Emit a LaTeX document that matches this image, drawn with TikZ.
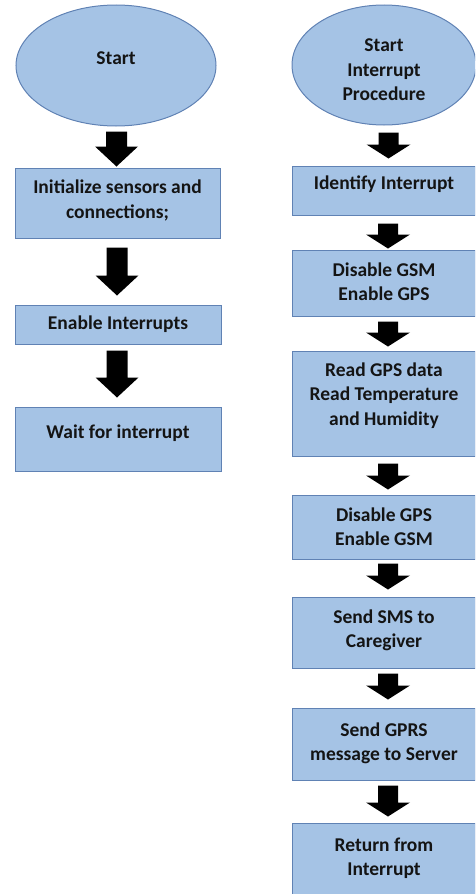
\documentclass[tikz,border=0pt]{standalone}
\usepackage{fontspec}
\setmainfont{Carlito}
\usetikzlibrary{shapes.geometric,calc}

\definecolor{boxfill}{RGB}{165,195,229}
\definecolor{boxline}{RGB}{96,130,180}
\definecolor{ink}{RGB}{20,20,20}

\tikzset{
  stepbox/.style={draw=boxline, fill=boxfill, line width=1pt, rectangle, inner sep=0pt},
  term/.style={draw=boxline, fill=boxfill, line width=1pt, ellipse, inner sep=0pt},
  % multi-line labels are placed by the baseline of their last line
  txt/.style={font=\bfseries\fontsize{19.5}{24.3}\selectfont, align=center, anchor=base,
    inner sep=0pt, text=ink},
  % block arrow: #1 shaft half width, #2 head half width, #3 head length
  blockarrow/.style n args={3}{
    to path={
      let \p1=(\tikztostart), \p2=(\tikztotarget) in
      (\x1-#1,\y1) -- (\x1+#1,\y1) -- (\x1+#1,\y2+#3) -- (\x1+#2,\y2+#3)
      -- (\x1,\y2) -- (\x1-#2,\y2+#3) -- (\x1-#1,\y2+#3) -- cycle
    }},
  bigarrow/.style={blockarrow={10.5}{21.5}{20}},
  smallarrow/.style={blockarrow={10}{22}{14}}
}

\begin{document}
\begin{tikzpicture}[x=1pt,y=1pt]
\useasboundingbox (0,0) rectangle (475,-894);
\clip (0,0) rectangle (475,-894);

% ---- main program ----
\node[term, minimum width=200, minimum height=121] (e1) at (116,-65.5) {};
\node[stepbox, minimum width=205, minimum height=70] (b1) at (117.5,-203) {};
\node[stepbox, minimum width=206, minimum height=39] (b2) at (118,-324.5) {};
\node[stepbox, minimum width=206, minimum height=64] (b3) at (118,-439) {};

\node[txt] (te1) at (116,-64) {Start};
\node[txt] (tb1) at (117.5,-218) {Initialize sensors and\\connections;};
\node[txt] (tb2) at (118,-329.5) {Enable Interrupts};
\node[txt] (tb3) at (118,-438.5) {Wait for interrupt};

\coordinate (a1s) at ([xshift=0.5pt,yshift=-5pt]e1.south);
\coordinate (a1e) at ([xshift=-1pt,yshift=1pt]b1.north);
\coordinate (a2s) at ([xshift=-0.5pt,yshift=-9pt]b1.south);
\coordinate (a2e) at ([xshift=-1pt,yshift=9pt]b2.north);
\coordinate (a3s) at ([xshift=-1pt,yshift=-6pt]b2.south);
\coordinate (a3e) at ([xshift=-1pt,yshift=9pt]b3.north);
\fill[black] (a1s) to[bigarrow] (a1e);
\fill[black] (a2s) to[bigarrow] (a2e);
\fill[black] (a3s) to[bigarrow] (a3e);

% ---- interrupt procedure ----
\node[term, minimum width=184, minimum height=120] (e2) at (384,-65) {};
\node[stepbox, minimum width=183, minimum height=49] (r1) at (383.5,-190.5) {};
\node[stepbox, minimum width=183, minimum height=66] (r2) at (383.5,-283) {};
\node[stepbox, minimum width=183, minimum height=105] (r3) at (383.5,-403.5) {};
\node[stepbox, minimum width=183, minimum height=64] (r4) at (383.5,-527) {};
\node[stepbox, minimum width=183, minimum height=71] (r5) at (383.5,-632.5) {};
\node[stepbox, minimum width=183, minimum height=72] (r6) at (383.5,-744) {};
\node[stepbox, minimum width=183, minimum height=82] (r7) at (383.5,-864) {};

\node[txt] (te2) at (384,-100.3) {Start\\Interrupt\\Procedure};
\node[txt] (tr1) at (384,-189.5) {Identify Interrupt};
\node[txt] (tr2) at (384,-300.8) {Disable GSM\\Enable GPS};
\node[txt] (tr3) at (384,-425.1) {Read GPS data\\Read Temperature\\and Humidity};
\node[txt] (tr4) at (384,-545.8) {Disable GPS\\Enable GSM};
\node[txt] (tr5) at (384,-647.8) {Send SMS to\\Caregiver};
\node[txt] (tr6) at (384,-760.8) {Send GPRS\\message to Server};
\node[txt] (tr7) at (384,-875.8) {Return from\\Interrupt};

\coordinate (c1s) at ([xshift=4.5pt,yshift=-7pt]e2.south);
\coordinate (c1e) at ([xshift=4.5pt,yshift=7pt]r1.north);
\coordinate (c2s) at ([xshift=4.5pt,yshift=-8pt]r1.south);
\coordinate (c2e) at ([xshift=4.5pt,yshift=1pt]r2.north);
\coordinate (c3s) at ([xshift=4.5pt,yshift=-5pt]r2.south);
\coordinate (c3e) at ([xshift=4.5pt,yshift=4pt]r3.north);
\coordinate (c4s) at ([xshift=4.5pt,yshift=-7pt]r3.south);
\coordinate (c4e) at ([xshift=4.5pt,yshift=5pt]r4.north);
\coordinate (c5s) at ([xshift=4.5pt,yshift=-4pt]r4.south);
\coordinate (c5e) at ([xshift=4.5pt,yshift=7pt]r5.north);
\coordinate (c6s) at ([xshift=4.5pt,yshift=-5pt]r5.south);
\coordinate (c6e) at ([xshift=4.5pt,yshift=8pt]r6.north);
\coordinate (c7s) at ([xshift=4.5pt,yshift=-5pt]r6.south);
\coordinate (c7e) at ([xshift=4.5pt,yshift=6pt]r7.north);
\fill[black] (c1s) to[smallarrow] (c1e);
\fill[black] (c2s) to[smallarrow] (c2e);
\fill[black] (c3s) to[smallarrow] (c3e);
\fill[black] (c4s) to[smallarrow] (c4e);
\fill[black] (c5s) to[smallarrow] (c5e);
\fill[black] (c6s) to[smallarrow] (c6e);
\fill[black] (c7s) to[smallarrow] (c7e);
\end{tikzpicture}
\end{document}
